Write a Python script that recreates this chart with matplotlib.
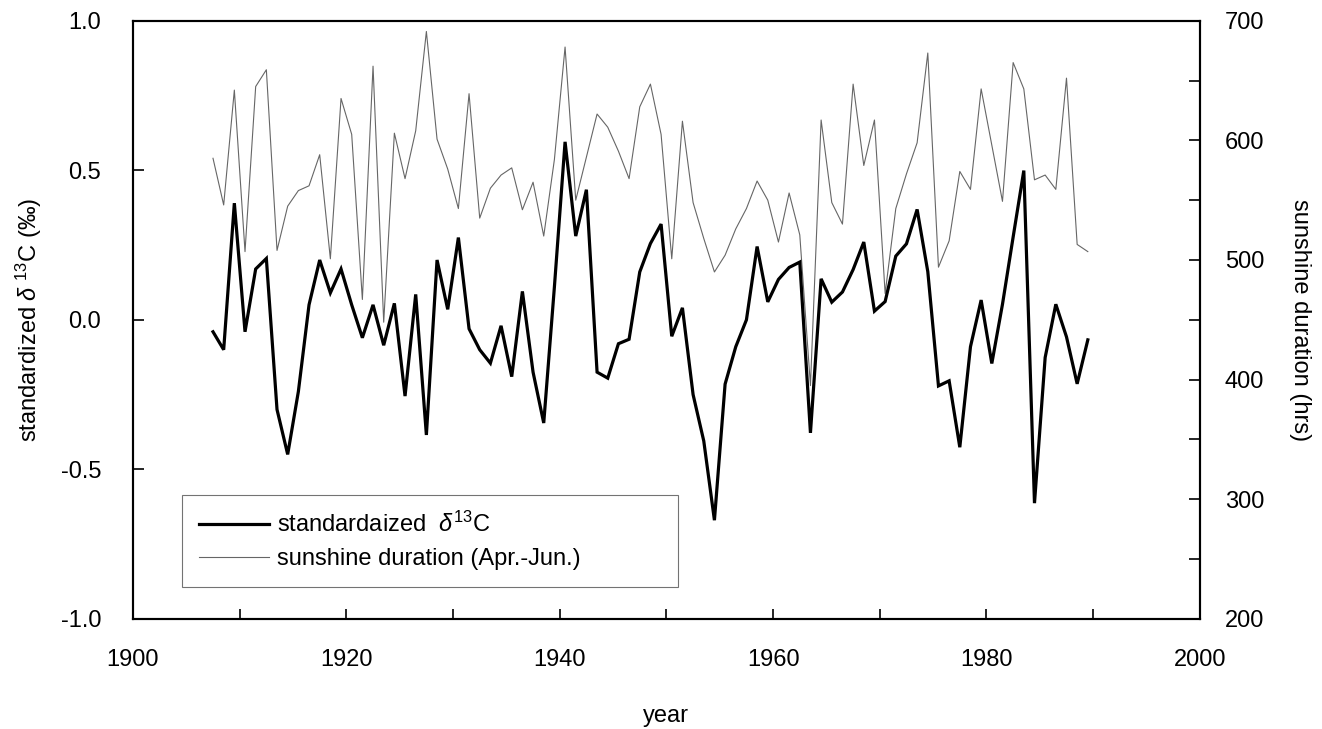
import numpy as np
import matplotlib
matplotlib.use('Agg')
import matplotlib.pyplot as plt
from matplotlib.ticker import MultipleLocator, FormatStrFormatter


# Data, one value per year (1907-1989)
years = np.arange(1907, 1990)

d13c = [-0.04, -0.10, 0.39, -0.04, 0.17, 0.205, -0.30, -0.45, -0.24, 0.05,
        0.20, 0.09, 0.17, 0.05, -0.06, 0.05, -0.085, 0.055, -0.255, 0.085,
        -0.385, 0.20, 0.035, 0.275, -0.03, -0.10, -0.145, -0.02, -0.19, 0.095,
        -0.175, -0.345, 0.11, 0.595, 0.28, 0.435, -0.175, -0.195, -0.08, -0.065,
        0.16, 0.255, 0.32, -0.055, 0.04, -0.25, -0.405, -0.67, -0.215, -0.09,
        0.0, 0.245, 0.06, 0.135, 0.175, 0.193, -0.378, 0.137, 0.059, 0.093,
        0.168, 0.26, 0.029, 0.061, 0.213, 0.254, 0.369, 0.161, -0.221, -0.204,
        -0.426, -0.09, 0.066, -0.146, 0.052, 0.277, 0.499, -0.613, -0.126, 0.052,
        -0.057, -0.214, -0.067]

sunshine = [585, 546, 642, 507, 645, 659, 508, 545, 558, 562,
            588, 501, 635, 605, 467, 662, 448, 606, 568, 608,
            691, 601, 576, 543, 639, 535, 560, 571, 577, 542,
            565, 520, 584, 678, 550, 586, 622, 611, 591, 568,
            628, 647, 605, 501, 616, 548, 518, 490, 504, 526,
            543, 566, 550, 515, 556, 521, 395, 617, 548, 530,
            647, 579, 617, 472, 543, 572, 598, 673, 494, 516,
            574, 559, 643, 596, 549, 665, 643, 567, 571, 559,
            652, 513, 507]

legend_labels = [r'standardaized  $\delta^{13}$C', 'sunshine duration (Apr.-Jun.)']


# Fonts
plt.rcParams['font.family'] = 'Liberation Sans'
plt.rcParams['font.size'] = 17
plt.rcParams['mathtext.fontset'] = 'custom'
plt.rcParams['mathtext.rm'] = 'Liberation Sans'
plt.rcParams['mathtext.it'] = 'Liberation Sans:italic'

fig = plt.figure(figsize=(13.22, 7.29), dpi=100)
ax = fig.add_axes([0.1006, 0.151, 0.807, 0.8206])
ax2 = ax.twinx()

# keep the thick line above the thin one
ax.set_zorder(ax2.get_zorder() + 1)
ax.patch.set_visible(False)

# values sit at mid-year
x = years + 0.5
l1, = ax.plot(x, d13c, color='black', lw=2.3, solid_joinstyle='miter')
l2, = ax2.plot(x, sunshine, color='0.4', lw=0.8)

# Axes limits and ticks
ax.set_xlim(1900, 2000)
ax.set_ylim(-1, 1)
ax2.set_ylim(200, 700)

ax.xaxis.set_major_locator(MultipleLocator(20))
ax.xaxis.set_minor_locator(MultipleLocator(10))
ax.yaxis.set_major_locator(MultipleLocator(0.5))
ax.yaxis.set_major_formatter(FormatStrFormatter('%.1f'))
ax2.yaxis.set_major_locator(MultipleLocator(100))
ax2.yaxis.set_minor_locator(MultipleLocator(50))

ax.tick_params(axis='x', which='both', direction='in', pad=22, length=7, width=1.2)
ax.tick_params(axis='y', which='both', direction='in', pad=23, length=8, width=1.2)
ax2.tick_params(axis='y', which='both', direction='in', pad=18, length=8, width=1.2)

for a in (ax, ax2):
    for s in a.spines.values():
        s.set_linewidth(1.5)

# Labels
ax.set_xlabel('year')
ax.xaxis.label.set_va('center')
ax.xaxis.set_label_coords(0.5, -0.162)

ax.set_ylabel('standardized $\\delta$ $^{13}$C (\u2030)')
ax.yaxis.label.set_va('center')
ax.yaxis.set_label_coords(-0.098, 0.5)

ax2.set_ylabel('sunshine duration (hrs)', rotation=270)
ax2.yaxis.label.set_va('center')
ax2.yaxis.set_label_coords(1.094, 0.5)

# Legend
leg = ax.legend([l1, l2], legend_labels, loc='lower left',
                bbox_to_anchor=(0.0456, 0.0535, 0.465, 0.158), mode='expand',
                fancybox=False, framealpha=1, edgecolor='0.45',
                handlelength=3.0, handletextpad=0.3, borderpad=0.72,
                labelspacing=0.45, borderaxespad=0)
leg.get_frame().set_linewidth(0.8)

fig.savefig('out.png', dpi=100)
